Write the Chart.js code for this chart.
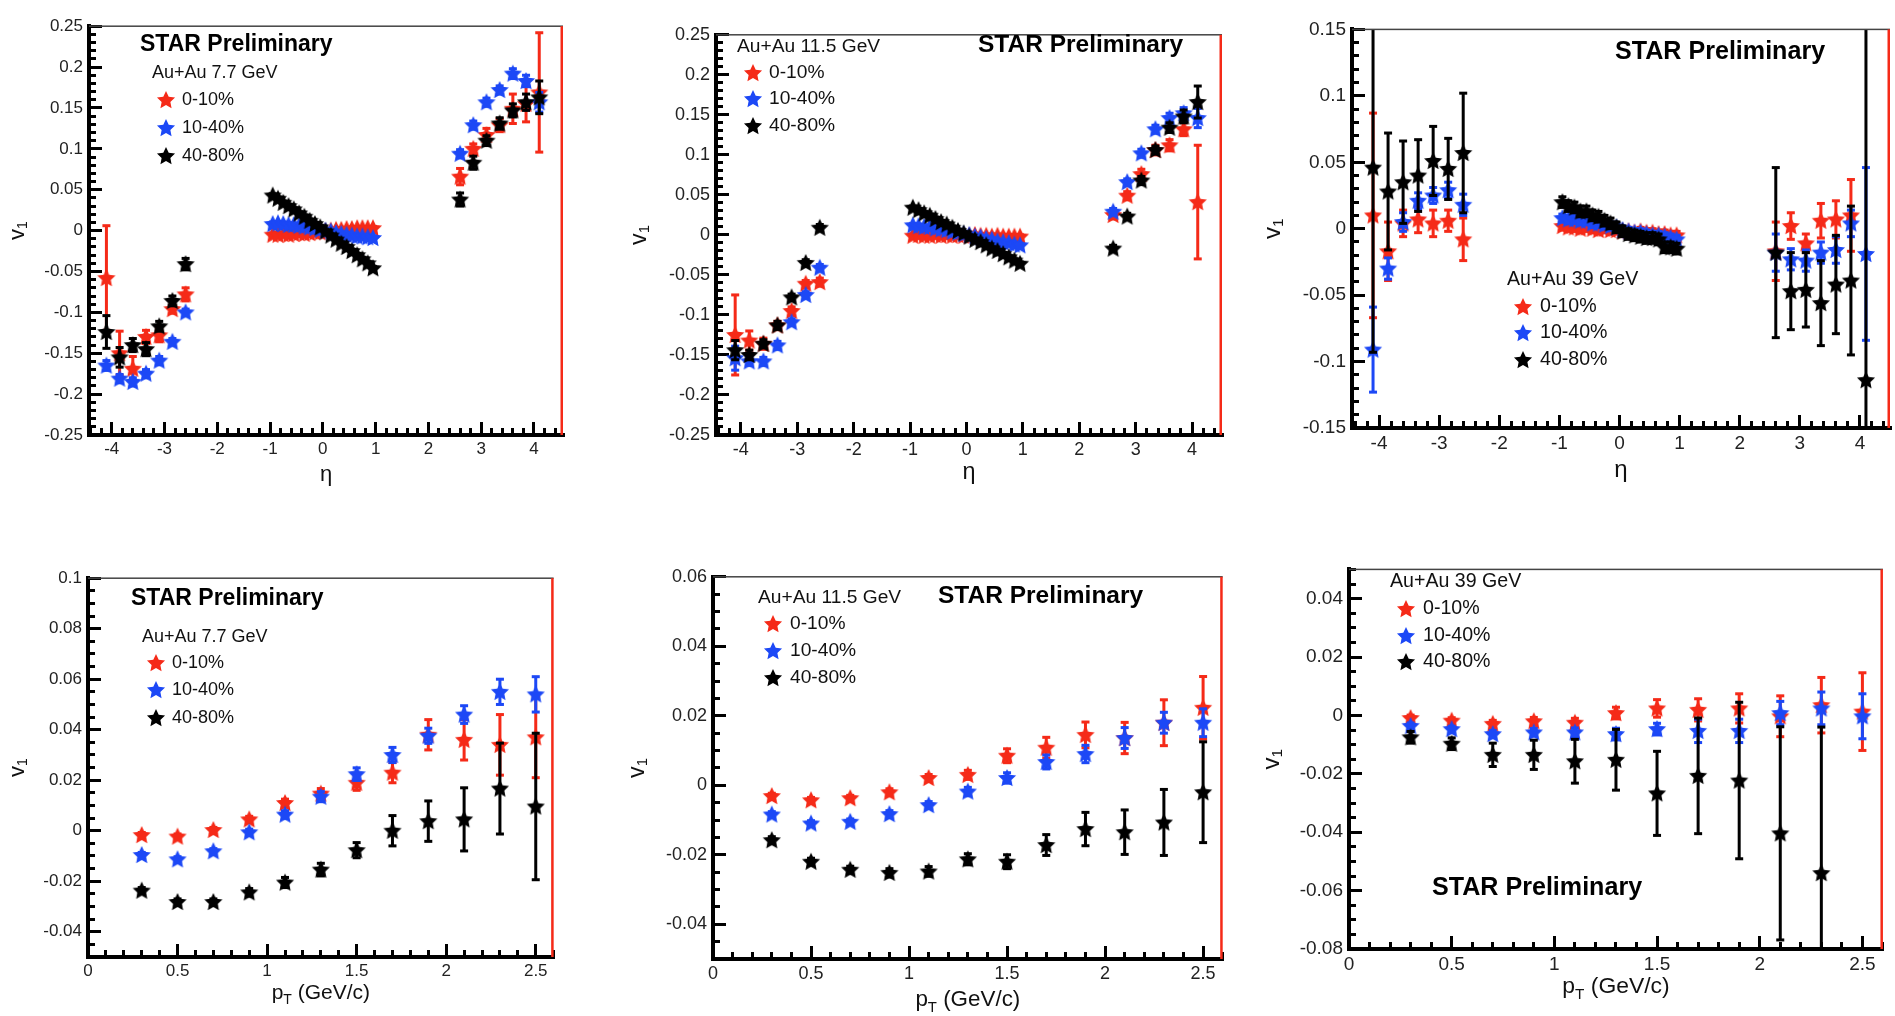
<!DOCTYPE html>
<!-- build 9: native Chart.js inward ticks -->
<html><head><meta charset="utf-8">
<script src="https://cdn.jsdelivr.net/npm/chart.js@4.4.1/dist/chart.umd.min.js"></script>
<style>
html,body{margin:0;padding:0;background:#fff;overflow:hidden;width:1895px;height:1016px;position:relative;}
canvas{position:absolute;}
</style></head><body>
<script>
// ---------------- DATA ----------------
const seriesLabels = ['0-10%', '10-40%', '40-80%'];
const energyLabels = ['Au+Au 7.7 GeV', 'Au+Au 11.5 GeV', 'Au+Au 39 GeV'];
const starLabel = 'STAR Preliminary';

const etaPts = [-4.1,-3.85,-3.6,-3.35,-3.1,-2.85,-2.6,
  -0.95,-0.85,-0.75,-0.65,-0.55,-0.45,-0.35,-0.25,-0.15,-0.05,0.05,0.15,0.25,0.35,0.45,0.55,0.65,0.75,0.85,0.95,
  2.6,2.85,3.1,3.35,3.6,3.85,4.1];
const ptPts = [0.3,0.5,0.7,0.9,1.1,1.3,1.5,1.7,1.9,2.1,2.3,2.5];

const eta77_0010 = [-0.058,-0.150,-0.169,-0.130,-0.128,-0.096,-0.078,
  -0.005,-0.005,-0.004,-0.005,-0.004,-0.003,-0.004,-0.003,-0.002,-0.002,-0.001,0.000,0.001,0.001,0.002,0.002,0.003,0.003,0.003,0.003,
  0.066,0.100,0.117,0.129,0.149,0.155,0.169];
const eta77_0010_err = [0.064,0.027,0.015,0.008,0.008,0.005,0.008,
  0.002,0.002,0.002,0.002,0.002,0.002,0.002,0.002,0.002,0.002,0.002,0.002,0.002,0.002,0.002,0.002,0.002,0.002,0.002,0.002,
  0.010,0.006,0.008,0.008,0.018,0.022,0.073];
const eta77_1040 = [-0.165,-0.181,-0.185,-0.175,-0.159,-0.136,-0.100,
  0.008,0.009,0.008,0.007,0.007,0.006,0.005,0.004,0.003,0.001,0.000,-0.001,-0.003,-0.004,-0.005,-0.006,-0.007,-0.007,-0.008,-0.009,
  0.094,0.129,0.157,0.172,0.192,0.183,0.157];
const eta77_1040_err = [0.006,0.005,0.005,0.005,0.005,0.004,0.004,
  0.002,0.002,0.002,0.002,0.002,0.002,0.002,0.002,0.002,0.002,0.002,0.002,0.002,0.002,0.002,0.002,0.002,0.002,0.002,0.002,
  0.005,0.005,0.005,0.005,0.006,0.007,0.012];
const eta77_4080 = [-0.124,-0.155,-0.140,-0.145,-0.117,-0.086,-0.041,
  0.043,0.039,0.034,0.030,0.026,0.021,0.017,0.012,0.008,0.004,-0.001,-0.006,-0.011,-0.016,-0.020,-0.025,-0.030,-0.035,-0.040,-0.046,
  0.038,0.083,0.110,0.131,0.147,0.157,0.163];
const eta77_4080_err = [0.020,0.012,0.008,0.008,0.006,0.006,0.007,
  0.002,0.002,0.002,0.002,0.002,0.002,0.002,0.002,0.002,0.002,0.002,0.002,0.002,0.002,0.002,0.002,0.002,0.002,0.002,0.002,
  0.008,0.008,0.006,0.007,0.008,0.010,0.020];

const eta115_0010 = [-0.125,-0.132,-0.136,-0.113,-0.095,-0.061,-0.059,
  -0.001,0.000,-0.001,-0.001,0.000,-0.001,0.000,-0.001,0.000,-0.001,-0.001,0.000,-0.001,-0.001,-0.002,-0.001,-0.002,-0.002,-0.002,-0.002,
  0.025,0.049,0.076,0.106,0.112,0.132,0.041];
const eta115_0010_err = [0.050,0.012,0.007,0.005,0.005,0.004,0.005,
  0.002,0.002,0.002,0.002,0.002,0.002,0.002,0.002,0.002,0.002,0.002,0.002,0.002,0.002,0.002,0.002,0.002,0.002,0.002,0.002,
  0.005,0.005,0.006,0.006,0.007,0.008,0.071];
const eta115_1040 = [-0.154,-0.158,-0.158,-0.138,-0.109,-0.075,-0.041,
  0.012,0.011,0.010,0.010,0.008,0.007,0.006,0.004,0.003,0.001,0.000,-0.002,-0.003,-0.005,-0.006,-0.008,-0.009,-0.010,-0.012,-0.013,
  0.029,0.066,0.102,0.132,0.146,0.152,0.146];
const eta115_1040_err = [0.015,0.005,0.005,0.005,0.004,0.004,0.004,
  0.002,0.002,0.002,0.002,0.002,0.002,0.002,0.002,0.002,0.002,0.002,0.002,0.002,0.002,0.002,0.002,0.002,0.002,0.002,0.002,
  0.004,0.004,0.005,0.005,0.006,0.007,0.012];
const eta115_4080 = [-0.144,-0.150,-0.136,-0.113,-0.078,-0.035,0.009,
  0.034,0.031,0.027,0.024,0.020,0.016,0.013,0.009,0.005,0.002,-0.002,-0.006,-0.009,-0.013,-0.017,-0.020,-0.024,-0.028,-0.032,-0.036,
  -0.017,0.023,0.068,0.106,0.134,0.148,0.166];
const eta115_4080_err = [0.012,0.006,0.005,0.005,0.004,0.004,0.004,
  0.002,0.002,0.002,0.002,0.002,0.002,0.002,0.002,0.002,0.002,0.002,0.002,0.002,0.002,0.002,0.002,0.002,0.002,0.002,0.002,
  0.004,0.004,0.005,0.005,0.006,0.008,0.020];

const eta39_0010 = [0.010,-0.017,0.004,0.007,0.004,0.006,-0.008,
  0.002,0.001,0.001,0.000,0.001,0.000,-0.001,0.000,-0.001,-0.001,-0.002,-0.002,-0.003,-0.002,-0.003,-0.003,-0.004,-0.004,-0.005,-0.005,
  -0.017,0.002,-0.011,0.006,0.007,0.010,null];
const eta39_0010_err = [0.077,0.022,0.010,0.010,0.010,0.008,0.016,
  0.003,0.003,0.003,0.003,0.003,0.003,0.003,0.003,0.003,0.003,0.003,0.003,0.003,0.003,0.003,0.003,0.003,0.003,0.003,0.003,
  0.022,0.010,0.007,0.013,0.014,0.027,null];
const eta39_1040 = [-0.091,-0.030,0.005,0.021,0.025,0.029,0.018,
  0.008,0.007,0.007,0.006,0.006,0.004,0.004,0.003,0.002,0.001,-0.001,-0.002,-0.003,-0.003,-0.004,-0.005,-0.005,-0.006,-0.007,-0.008,
  -0.018,-0.023,-0.024,-0.018,-0.016,0.004,-0.019];
const eta39_1040_err = [0.032,0.008,0.007,0.006,0.006,0.006,0.008,
  0.003,0.003,0.003,0.003,0.003,0.003,0.003,0.003,0.003,0.003,0.003,0.003,0.003,0.003,0.003,0.003,0.003,0.003,0.003,0.003,
  0.014,0.008,0.008,0.008,0.010,0.010,0.065];
const eta39_4080 = [0.046,0.028,0.035,0.040,0.051,0.045,0.057,
  0.020,0.017,0.016,0.013,0.013,0.010,0.009,0.006,0.004,0.001,-0.002,-0.004,-0.005,-0.006,-0.007,-0.007,-0.008,-0.014,-0.014,-0.015,
  -0.018,-0.047,-0.046,-0.056,-0.042,-0.039,-0.114];
const eta39_4080_err = [0.139,0.044,0.031,0.027,0.026,0.023,0.045,
  0.004,0.004,0.004,0.004,0.004,0.004,0.004,0.004,0.004,0.004,0.004,0.004,0.004,0.004,0.004,0.004,0.004,0.004,0.004,0.004,
  0.064,0.029,0.028,0.032,0.037,0.056,0.280];

const pt77_0010 = [-0.0017,-0.0023,0.0003,0.0045,0.0110,0.0147,0.0190,0.0230,0.0380,0.0360,0.0340,0.0370];
const pt77_0010_err = [0.0010,0.0010,0.0010,0.0012,0.0015,0.0020,0.0030,0.0040,0.0060,0.0080,0.0120,0.0160];
const pt77_1040 = [-0.0096,-0.0113,-0.0081,-0.0006,0.0064,0.0135,0.0224,0.0300,0.0376,0.0460,0.0550,0.0540];
const pt77_1040_err = [0.0010,0.0010,0.0010,0.0012,0.0015,0.0020,0.0025,0.0030,0.0030,0.0035,0.0050,0.0070];
const pt77_4080 = [-0.0237,-0.0282,-0.0282,-0.0244,-0.0205,-0.0154,-0.0077,0.0000,0.0038,0.0045,0.0167,0.0096];
const pt77_4080_err = [0.0012,0.0012,0.0012,0.0015,0.0020,0.0025,0.0030,0.0060,0.0080,0.0125,0.0180,0.0290];

const pt115_0010 = [-0.0031,-0.0043,-0.0037,-0.0020,0.0021,0.0030,0.0085,0.0108,0.0145,0.0136,0.0180,0.0223];
const pt115_0010_err = [0.0008,0.0008,0.0008,0.0010,0.0010,0.0013,0.0020,0.0030,0.0037,0.0045,0.0066,0.0090];
const pt115_1040 = [-0.0084,-0.0110,-0.0105,-0.0083,-0.0057,-0.0018,0.0021,0.0067,0.0090,0.0136,0.0180,0.0180];
const pt115_1040_err = [0.0008,0.0008,0.0008,0.0010,0.0010,0.0012,0.0015,0.0020,0.0025,0.0030,0.0030,0.0040];
const pt115_4080 = [-0.0158,-0.0220,-0.0243,-0.0252,-0.0248,-0.0213,-0.0220,-0.0172,-0.0126,-0.0135,-0.0107,-0.0020];
const pt115_4080_err = [0.0010,0.0010,0.0010,0.0012,0.0014,0.0016,0.0020,0.0030,0.0048,0.0064,0.0095,0.0145];

const pt39_0010 = [-0.0009,-0.0018,-0.0029,-0.0020,-0.0025,0.0008,0.0024,0.0019,0.0024,-0.0003,0.0035,0.0013];
const pt39_0010_err = [0.0010,0.0010,0.0012,0.0013,0.0015,0.0020,0.0030,0.0038,0.0050,0.0070,0.0095,0.0133];
const pt39_1040 = [-0.0036,-0.0047,-0.0064,-0.0058,-0.0058,-0.0064,-0.0047,-0.0053,-0.0053,0.0008,0.0024,-0.0003];
const pt39_1040_err = [0.0010,0.0010,0.0012,0.0013,0.0015,0.0020,0.0020,0.0040,0.0040,0.0040,0.0056,0.0077];
const pt39_4080 = [-0.0075,-0.0097,-0.0135,-0.0135,-0.0157,-0.0152,-0.0267,-0.0207,-0.0223,-0.0404,-0.0540,null];
const pt39_4080_err = [0.0020,0.0020,0.0040,0.0050,0.0075,0.0104,0.0144,0.0198,0.0268,0.0365,0.0500,null];

const etaTickVals = [-4,-3,-2,-1,0,1,2,3,4];
const etaTickLabels = ['-4','-3','-2','-1','0','1','2','3','4'];
const ptTickVals = [0,0.5,1,1.5,2,2.5];
const ptTickLabels = ['0','0.5','1','1.5','2','2.5'];
const yEtaTickVals = [-0.25,-0.2,-0.15,-0.1,-0.05,0,0.05,0.1,0.15,0.2,0.25];
const yEtaTickLabels = ['-0.25','-0.2','-0.15','-0.1','-0.05','0','0.05','0.1','0.15','0.2','0.25'];
const yEta39TickVals = [-0.15,-0.1,-0.05,0,0.05,0.1,0.15];
const yEta39TickLabels = ['-0.15','-0.1','-0.05','0','0.05','0.1','0.15'];
const yPt77TickVals = [-0.04,-0.02,0,0.02,0.04,0.06,0.08,0.1];
const yPt77TickLabels = ['-0.04','-0.02','0','0.02','0.04','0.06','0.08','0.1'];
const yPt115TickVals = [-0.04,-0.02,0,0.02,0.04,0.06];
const yPt115TickLabels = ['-0.04','-0.02','0','0.02','0.04','0.06'];
const yPt39TickVals = [-0.08,-0.06,-0.04,-0.02,0,0.02,0.04];
const yPt39TickLabels = ['-0.08','-0.06','-0.04','-0.02','0','0.02','0.04'];

// ---------------- STYLE / LAYOUT ----------------
const FONT = "'Liberation Sans', Arial, Helvetica, sans-serif";
const COLORS = ['#f52a18', '#1c48f6', '#000000'];

function starImage(color){
  const s = 24, c = document.createElement('canvas');
  c.width = s; c.height = s;
  const g = c.getContext('2d');
  g.fillStyle = color; g.beginPath();
  const R = 9.5, r = 4.6;
  for (let i = 0; i < 10; i++) {
    const a = -Math.PI/2 + i*Math.PI/5, rad = (i % 2) ? r : R;
    g.lineTo(s/2 + rad*Math.cos(a), s/2 + 0.5 + rad*Math.sin(a));
  }
  g.closePath(); g.fill();
  return c;
}
const STARS = COLORS.map(starImage);

const panels = [
  {L:89, R:566, T:13, B:435, s:1.0,
   x:{min:-4.43, max:4.55, vals:etaTickVals, labels:etaTickLabels, minor:0.2},
   y:{min:-0.25, max:0.25, vals:yEtaTickVals, labels:yEtaTickLabels, minor:0.01},
   xs:etaPts, series:[eta77_0010, eta77_1040, eta77_4080], errs:[eta77_0010_err, eta77_1040_err, eta77_4080_err],
   xTitle:'eta', xTitleDy:40, yTitleDx:-71, energy:0,
   star:[140,45], auau:[152,73], leg:{mx:166, tx:182, rows:[100,128,156]}},
  {L:716, R:1225, T:21, B:435, s:1.065,
   x:{min:-4.44, max:4.53, vals:etaTickVals, labels:etaTickLabels, minor:0.2},
   y:{min:-0.25, max:0.25, vals:yEtaTickVals, labels:yEtaTickLabels, minor:0.01},
   xs:etaPts, series:[eta115_0010, eta115_1040, eta115_4080], errs:[eta115_0010_err, eta115_1040_err, eta115_4080_err],
   xTitle:'eta', xTitleDy:38, yTitleDx:-76, energy:1,
   star:[978,45], auau:[737,47], leg:{mx:753, tx:769, rows:[73,99,126]}},
  {L:1352, R:1893, T:15, B:428, s:1.09,
   x:{min:-4.45, max:4.5, vals:etaTickVals, labels:etaTickLabels, minor:0.2},
   y:{min:-0.15, max:0.15, vals:yEta39TickVals, labels:yEta39TickLabels, minor:0.01},
   xs:etaPts, series:[eta39_0010, eta39_1040, eta39_4080], errs:[eta39_0010_err, eta39_1040_err, eta39_4080_err],
   xTitle:'eta', xTitleDy:42, yTitleDx:-79, energy:2,
   star:[1615,52], auau:[1507,280], leg:{mx:1523, tx:1540, rows:[307,333,360]}},
  {L:88, R:558, T:565, B:957, s:1.0,
   x:{min:0, max:2.6, vals:ptTickVals, labels:ptTickLabels, minor:0.1},
   y:{min:-0.05, max:0.1, vals:yPt77TickVals, labels:yPt77TickLabels, minor:0.005},
   xs:ptPts, series:[pt77_0010, pt77_1040, pt77_4080], errs:[pt77_0010_err, pt77_1040_err, pt77_4080_err],
   xTitle:'pt', xTitleDy:36, yTitleDx:-70, energy:0,
   star:[131,599], auau:[142,637], leg:{mx:156, tx:172, rows:[663,690,718]}},
  {L:713, R:1226, T:563, B:959, s:1.065,
   x:{min:0, max:2.6, vals:ptTickVals, labels:ptTickLabels, minor:0.1},
   y:{min:-0.05, max:0.06, vals:yPt115TickVals, labels:yPt115TickLabels, minor:0.005},
   xs:ptPts, series:[pt115_0010, pt115_1040, pt115_4080], errs:[pt115_0010_err, pt115_1040_err, pt115_4080_err],
   xTitle:'pt', xTitleDy:41, yTitleDx:-75, energy:1,
   star:[938,596], auau:[758,598], leg:{mx:773, tx:790, rows:[624,651,678]}},
  {L:1349, R:1886, T:555, B:949, s:1.09,
   x:{min:0, max:2.6, vals:ptTickVals, labels:ptTickLabels, minor:0.1},
   y:{min:-0.08, max:0.05, vals:yPt39TickVals, labels:yPt39TickLabels, minor:0.005},
   xs:ptPts, series:[pt39_0010, pt39_1040, pt39_4080], errs:[pt39_0010_err, pt39_1040_err, pt39_4080_err],
   xTitle:'pt', xTitleDy:38, yTitleDx:-77, energy:2,
   star:[1432,888], auau:[1390,582], leg:{mx:1406, tx:1423, rows:[609,636,662]}}
];

function minorVals(min, max, step){
  const out = []; const n0 = Math.ceil(min/step - 1e-9), n1 = Math.floor(max/step + 1e-9);
  for (let n = n0; n <= n1; n++) out.push(+(n*step).toFixed(6));
  return out;
}

function makePanel(p, idx){
  const CL = p.L - 88, CT = p.T - 16;
  const CW = p.R - CL + 7, CH = p.B - CT + 62;
  const cv = document.createElement('canvas');
  cv.width = CW; cv.height = CH;
  cv.style.left = CL + 'px'; cv.style.top = CT + 'px';
  document.body.appendChild(cv);
  const s = p.s;
  const lx = v => v - CL, ly = v => v - CT;
  const yMinor = minorVals(p.y.min, p.y.max, p.y.minor);
  const xMinor = minorVals(p.x.min, p.x.max, p.x.minor);

  const plugin = {
    id: 'frame' + idx,
    beforeDatasetDraw(chart, args){
      const ds = chart.data.datasets[args.index];
      const ctx = chart.ctx, a = chart.chartArea, xs = chart.scales.x, ys = chart.scales.y;
      ctx.save();
      ctx.beginPath(); ctx.rect(a.left, a.top, a.right - a.left, a.bottom - a.top); ctx.clip();
      ctx.fillStyle = ds.errColor;
      ds.data.forEach(d => {
        if (!d.e) return;
        const x = xs.getPixelForValue(d.x), y1 = ys.getPixelForValue(d.y + d.e), y2 = ys.getPixelForValue(d.y - d.e);
        ctx.fillRect(x - 1.5, y1, 3, y2 - y1);
        ctx.fillRect(x - 4, y1 - 1.5, 8, 3);
        ctx.fillRect(x - 4, y2 - 1.5, 8, 3);
      });
      ctx.restore();
    },
    afterDraw(chart){
      const ctx = chart.ctx, a = chart.chartArea;
      ctx.save();
      ctx.fillStyle = '#444444';
      ctx.fillRect(a.left, a.top - 0.75, a.right - a.left, 1.5);
      ctx.fillStyle = COLORS[0];
      ctx.fillRect(a.right - 2.5, a.top, 2.5, a.bottom - a.top);
      // annotation text
      ctx.fillStyle = '#000000'; ctx.textBaseline = 'middle'; ctx.textAlign = 'left';
      ctx.font = 'bold ' + (23*s).toFixed(1) + 'px ' + FONT;
      ctx.fillText(starLabel, lx(p.star[0]), ly(p.star[1]));
      ctx.fillStyle = '#111111';
      ctx.font = (18*s).toFixed(1) + 'px ' + FONT;
      ctx.fillText(energyLabels[p.energy], lx(p.auau[0]), ly(p.auau[1]));
      seriesLabels.forEach((lab, i) => {
        const r = ly(p.leg.rows[i]);
        ctx.drawImage(STARS[i], lx(p.leg.mx) - 12, r - 12);
        ctx.fillText(lab, lx(p.leg.tx), r);
      });
      const cx = (a.left + a.right) / 2, ty = a.bottom + p.xTitleDy;
      if (p.xTitle === 'eta') {
        ctx.textAlign = 'center';
        ctx.font = (22*s).toFixed(1) + 'px ' + FONT;
        ctx.fillText('η', cx, ty);
      } else {
        const f1 = (21*s).toFixed(1) + 'px ' + FONT, f2 = (14*s).toFixed(1) + 'px ' + FONT;
        ctx.font = f1; const wp = ctx.measureText('p').width, wr = ctx.measureText(' (GeV/c)').width;
        ctx.font = f2; const wt = ctx.measureText('T').width;
        const x0 = cx - (wp + wt + wr) / 2;
        ctx.textAlign = 'left';
        ctx.font = f1; ctx.fillText('p', x0, ty);
        ctx.font = f2; ctx.fillText('T', x0 + wp, ty + 7*s);
        ctx.font = f1; ctx.fillText(' (GeV/c)', x0 + wp + wt, ty);
      }
      ctx.translate(a.left + p.yTitleDx, (a.top + a.bottom) / 2);
      ctx.rotate(-Math.PI / 2);
      const g1 = (22*s).toFixed(1) + 'px ' + FONT, g2 = (14*s).toFixed(1) + 'px ' + FONT;
      ctx.font = g1; const wv = ctx.measureText('v').width;
      ctx.font = g2; const w1 = ctx.measureText('1').width;
      const y0 = -(wv + w1) / 2;
      ctx.textAlign = 'left';
      ctx.font = g1; ctx.fillText('v', y0, 0);
      ctx.font = g2; ctx.fillText('1', y0 + wv, 5*s);
      ctx.restore();
    }
  };

  const datasets = p.series.map((vals, i) => ({
    label: seriesLabels[i],
    xAxisID: 'x', yAxisID: 'y',
    data: p.xs.map((x, k) => ({x: x, y: vals[k], e: p.errs[i][k]})).filter(d => d.y !== null),
    pointStyle: STARS[i], pointRadius: 9, pointHoverRadius: 9,
    showLine: false, order: 3 - i, errColor: COLORS[i],
    backgroundColor: COLORS[i], borderColor: COLORS[i]
  }));

  const tickFont = {family: FONT, size: Math.round(17*s)};
  const tickGrid = len => ({display: true, drawOnChartArea: false, drawTicks: true, tickLength: len,
                            tickWidth: 3, tickColor: '#000000', color: '#000000', lineWidth: 3});
  new Chart(cv, {
    type: 'scatter',
    data: {datasets},
    options: {
      responsive: false, animation: false, events: [], devicePixelRatio: 1,
      layout: {padding: {left: 0, top: p.T - CT, right: CW - (p.R - CL), bottom: 0}},
      plugins: {legend: {display: false}, tooltip: {enabled: false}, title: {display: false}},
      scales: {
        x: {type: 'linear', position: 'bottom', weight: 1, min: p.x.min, max: p.x.max,
            afterBuildTicks: sc => { sc.ticks = p.x.vals.map(v => ({value: v})); },
            afterFit: sc => { sc.height = CH - (p.B - CT); },
            grid: tickGrid(-13), border: {display: true, width: 4, color: '#000000'},
            ticks: {padding: 17, autoSkip: false, maxRotation: 0, color: '#222', font: tickFont,
                    callback: (v, i) => p.x.labels[i]}},
        xm: {type: 'linear', position: 'bottom', weight: 0, min: p.x.min, max: p.x.max,
            afterBuildTicks: sc => { sc.ticks = xMinor.map(v => ({value: v})); },
            afterFit: sc => { sc.height = 0; },
            grid: tickGrid(-7), border: {display: false},
            ticks: {display: false, autoSkip: false}},
        y: {type: 'linear', position: 'left', weight: 1, min: p.y.min, max: p.y.max,
            afterBuildTicks: sc => { sc.ticks = p.y.vals.map(v => ({value: v})); },
            afterFit: sc => { sc.width = p.L - CL; },
            grid: tickGrid(-13), border: {display: true, width: 4, color: '#000000'},
            ticks: {padding: 19, autoSkip: false, color: '#222', font: tickFont,
                    callback: (v, i) => p.y.labels[i]}},
        ym: {type: 'linear', position: 'left', weight: 0, min: p.y.min, max: p.y.max,
            afterBuildTicks: sc => { sc.ticks = yMinor.map(v => ({value: v})); },
            afterFit: sc => { sc.width = 0; },
            grid: tickGrid(-7), border: {display: false},
            ticks: {display: false, autoSkip: false}}
      }
    },
    plugins: [plugin]
  });
}

panels.forEach(makePanel);
</script>
</body></html>
